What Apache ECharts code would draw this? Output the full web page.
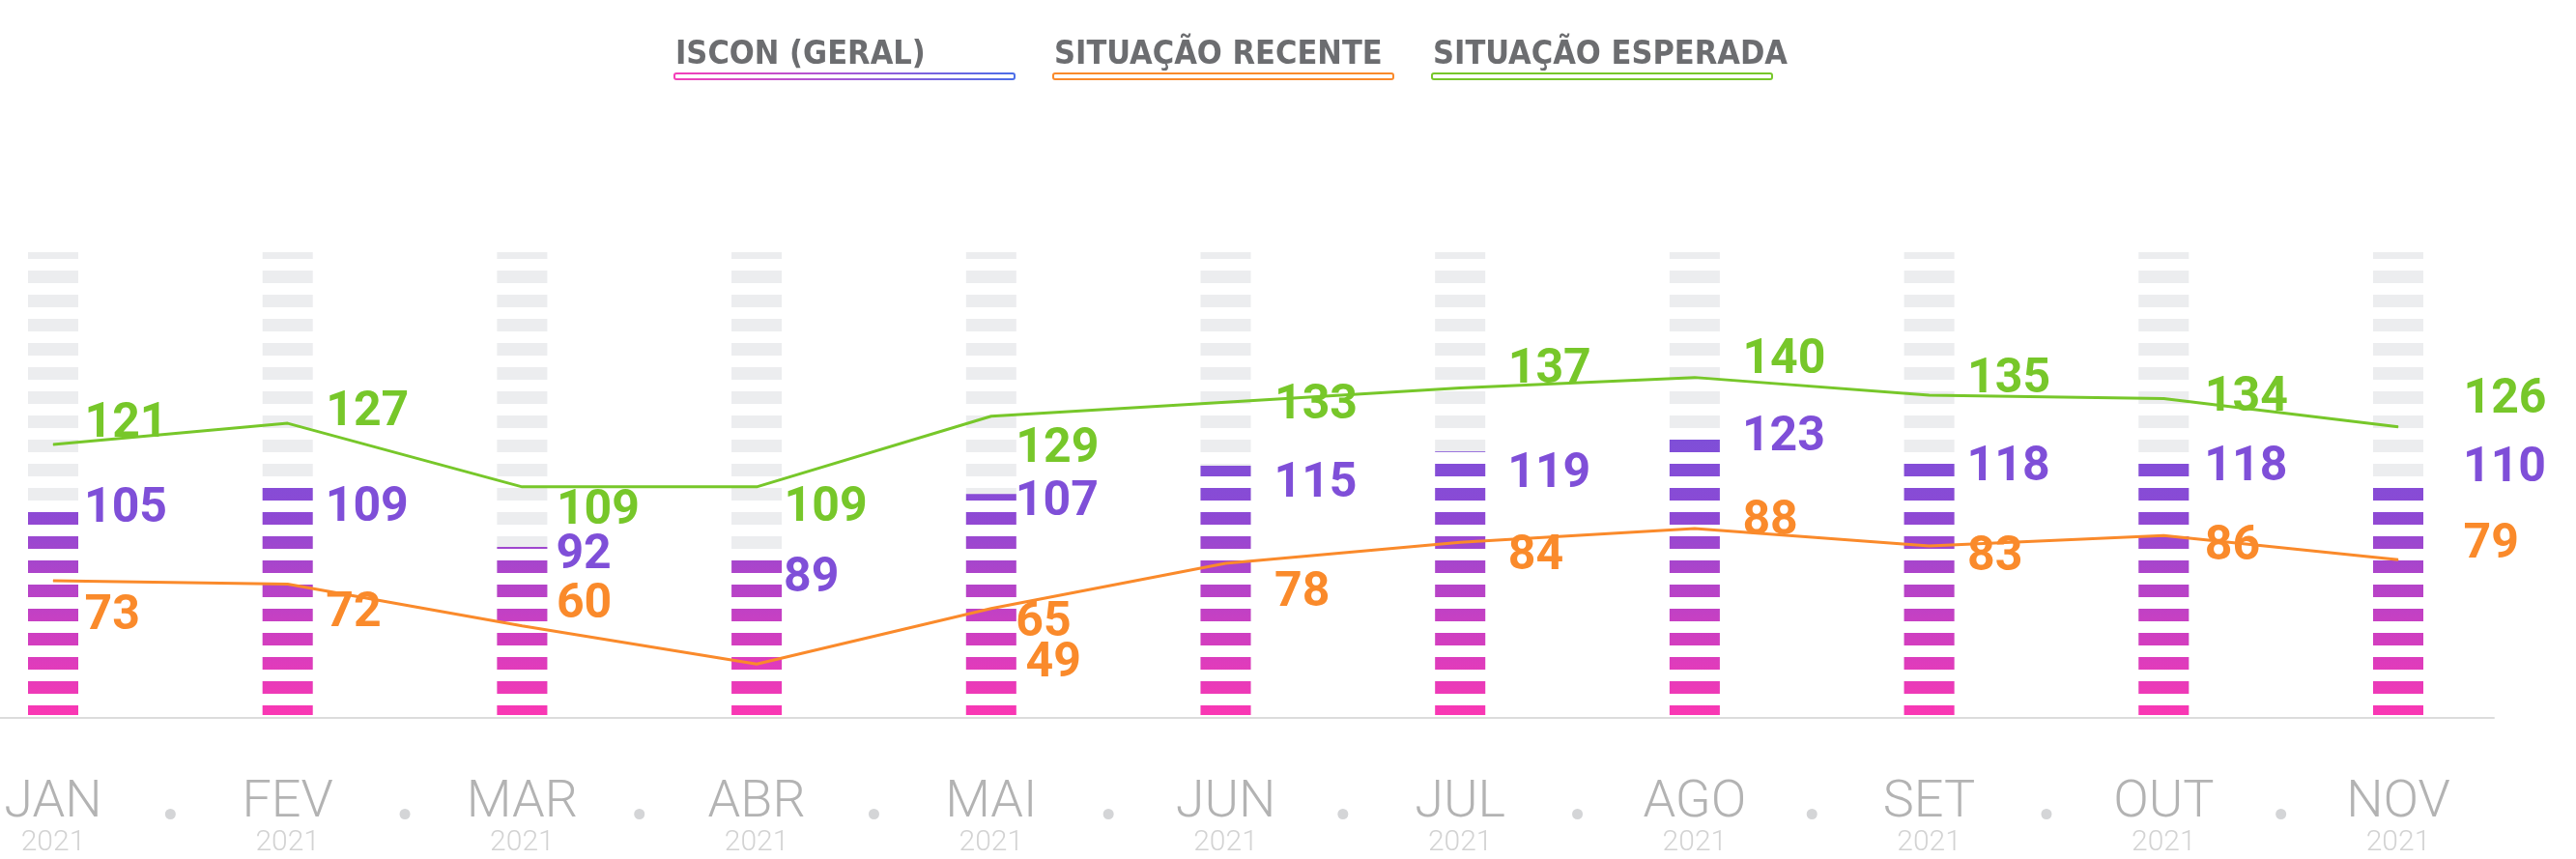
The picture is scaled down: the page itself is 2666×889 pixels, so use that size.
<!DOCTYPE html>
<html>
<head>
<meta charset="utf-8">
<script src="https://cdn.jsdelivr.net/npm/echarts@6/dist/echarts.min.js"></script>
<style>
  html, body { margin: 0; background: #fff; }
  #main { width: 2666px; height: 889px; }
</style>
</head>
<body>
<div id="main"></div>
<script>
// data
const months = ['JAN', 'FEV', 'MAR', 'ABR', 'MAI', 'JUN', 'JUL', 'AGO', 'SET', 'OUT', 'NOV'];
const years = ['2021', '2021', '2021', '2021', '2021', '2021', '2021', '2021', '2021', '2021', '2021'];
const iscon = [105, 109, 92, 89, 107, 115, 119, 123, 118, 118, 110];
const recente = [73, 72, 60, 49, 65, 78, 84, 88, 83, 86, 79];
const esperada = [121, 127, 109, 109, 129, 133, 137, 140, 135, 134, 126];
const dots = ['·', '·', '·', '·', '·', '·', '·', '·', '·', '·'];

// label placement (hand nudged like the original)
const labelShift = [32, 39, 35, 28, 25, 50, 49, 49, 39, 42, 67];
const isconDy = [9, 23, 10, 23, 9, 20, 24, 1, 14, 14, -15];
const esperadaDy = [-21, -11, 26, 23, 35, 4, -18, -17, -15, 0, -27];
const recenteDy = [38, 31, -21, 0, 16, 32, 15, -6, 13, 12, -15];

const PURPLE = '#7f4fd8';
const ORANGE = '#fa8a2b';
const GREEN = '#77c72a';
const BAR_W = 52, SEG = 13, PITCH = 25;
const labelFont = 'Roboto, "DejaVu Sans", sans-serif';

const barStops = [
  { offset: 0, color: '#fc37b3' },
  { offset: 0.45, color: '#8a4ad5' },
  { offset: 0.6, color: '#7f4fd8' },
  { offset: 1, color: '#7f4fd8' }
];

var myChart = echarts.init(document.getElementById('main'));

function renderIscon(params, api) {
  var i = params.dataIndex;
  var v = api.value(1);
  var cs = params.coordSys;
  var base = cs.y + cs.height;
  var pt = api.coord([i, v]);
  var cx = pt[0], top = pt[1];
  var x = cx - BAR_W / 2;
  var grad = new echarts.graphic.LinearGradient(0, base, 0, cs.y, barStops, true);
  var children = [];
  for (var b = base; b > cs.y; b -= PITCH) {
    var y0 = Math.max(b - SEG, cs.y);
    var y1 = Math.min(b, base - 3);
    if (y1 <= y0) continue;
    children.push({ type: 'rect', shape: { x: x, y: y0, width: BAR_W, height: y1 - y0 }, style: { fill: '#ecedef' } });
    var c0 = Math.max(y0, top);
    if (y1 > c0) {
      children.push({ type: 'rect', shape: { x: x, y: c0, width: BAR_W, height: y1 - c0 }, style: { fill: grad } });
    }
  }
  children.push({
    type: 'text',
    x: cx + labelShift[i],
    y: top + isconDy[i],
    style: { text: String(v), fill: PURPLE, font: 'bold 50px ' + labelFont, verticalAlign: 'middle', align: 'left' }
  });
  return { type: 'group', children: children };
}

function lineData(values, dys, special) {
  return values.map(function (v, i) {
    var dx = labelShift[i];
    if (special && special[i] !== undefined) dx = special[i];
    return { value: v, label: { offset: [dx, dys[i]] } };
  });
}

var legendBorders = [
  new echarts.graphic.LinearGradient(0, 0, 1, 0, [
    { offset: 0, color: '#f43fb9' },
    { offset: 0.5, color: '#a558d6' },
    { offset: 1, color: '#4b6ee8' }
  ]),
  ORANGE,
  GREEN
];
var legendNames = ['ISCON (GERAL)', 'SITUAÇÃO RECENTE', 'SITUAÇÃO ESPERADA'];
var legendRich = {
  t: {
    fontFamily: '"Liberation Sans Narrow", "DejaVu Sans Condensed", sans-serif',
    fontWeight: 'bold', fontSize: 34, color: '#6c6d70', lineHeight: 34
  }
};
legendBorders.forEach(function (c, k) {
  legendRich['u' + k] = { width: 350, height: 4, lineHeight: 10, backgroundColor: '#fff', borderColor: c, borderWidth: 2, borderRadius: 1 };
});

var option = {
  backgroundColor: '#fff',
  animation: false,
  legend: {
    data: legendNames,
    left: 694,
    top: 40,
    padding: 0,
    itemGap: 35,
    itemWidth: 0,
    itemHeight: 0,
    icon: 'rect',
    selectedMode: false,
    formatter: function (name) {
      return '{t|' + name + '}\n{u' + legendNames.indexOf(name) + '|}';
    },
    textStyle: { rich: legendRich }
  },
  grid: [
    { left: 55, right: 184, top: 261, bottom: 146 },
    { left: 0, right: 85, top: 261, bottom: 146 }
  ],
  xAxis: [
    {
      type: 'category',
      gridIndex: 0,
      data: months,
      boundaryGap: false,
      axisLine: { show: false },
      axisTick: { show: false },
      axisLabel: {
        interval: 0,
        margin: 61,
        formatter: function (val, idx) { return '{m|' + val + '}\n{y|' + years[idx] + '}'; },
        rich: {
          m: { fontFamily: labelFont, fontWeight: 300, fontSize: 54, color: '#b3b3b3', lineHeight: 54 },
          y: { fontFamily: labelFont, fontWeight: 300, fontSize: 30, color: '#d3d3d3', lineHeight: 28 }
        }
      }
    },
    {
      type: 'category',
      gridIndex: 0,
      data: dots,
      boundaryGap: true,
      position: 'bottom',
      offset: 0,
      axisLine: { show: false },
      axisTick: { show: false },
      axisLabel: {
        interval: 0,
        margin: 94,
        formatter: function () { return '{d|}'; },
        rich: { d: { width: 11, height: 11, borderRadius: 6, backgroundColor: '#d4d5d7' } }
      }
    },
    {
      type: 'value',
      gridIndex: 1,
      axisLine: { show: true, lineStyle: { color: '#dcdcdc', width: 2 } },
      axisTick: { show: false },
      axisLabel: { show: false },
      splitLine: { show: false }
    }
  ],
  yAxis: [
    { type: 'value', gridIndex: 0, min: 43.5, max: 175.5, show: false },
    { type: 'value', gridIndex: 0, min: 33.5, max: 167.5, show: false },
    { type: 'value', gridIndex: 1, show: false }
  ],
  series: [
    {
      name: 'ISCON (GERAL)',
      type: 'custom',
      xAxisIndex: 0,
      yAxisIndex: 0,
      clip: false,
      itemStyle: { color: PURPLE },
      renderItem: renderIscon,
      data: iscon.map(function (v, i) { return [i, v]; })
    },
    {
      name: 'SITUAÇÃO RECENTE',
      type: 'line',
      xAxisIndex: 0,
      yAxisIndex: 1,
      symbol: 'circle',
      symbolSize: 1,
      itemStyle: { color: ORANGE },
      lineStyle: { color: ORANGE, width: 3 },
      label: {
        show: true, position: 'right', distance: 0,
        color: ORANGE, fontFamily: labelFont, fontWeight: 'bold', fontSize: 50
      },
      data: lineData(recente, recenteDy, { 3: 278 })
    },
    {
      name: 'SITUAÇÃO ESPERADA',
      type: 'line',
      xAxisIndex: 0,
      yAxisIndex: 0,
      symbol: 'circle',
      symbolSize: 1,
      itemStyle: { color: GREEN },
      lineStyle: { color: GREEN, width: 3 },
      label: {
        show: true, position: 'right', distance: 0,
        color: GREEN, fontFamily: labelFont, fontWeight: 'bold', fontSize: 50
      },
      data: lineData(esperada, esperadaDy)
    }
  ]
};

myChart.setOption(option);
</script>
</body>
</html>
